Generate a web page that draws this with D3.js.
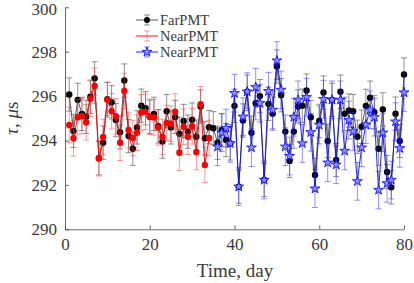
<!DOCTYPE html>
<html>
<head>
<meta charset="utf-8">
<script src="https://cdn.jsdelivr.net/npm/d3@7"></script>
<style>
  body { margin: 0; background: #fff; }
  svg text { font-family: "Liberation Serif", "DejaVu Serif", serif; }
</style>
</head>
<body>
<svg width="414" height="283"></svg>
<script>
// Data
const farDays = d3.range(1, 81);
const farTau = [
  296.07, 294.43, 295.83, 295.2, 295.07, 295.97, 296.8, 293.2, 293.9, 295.86,
  295.72, 294.92, 294.37, 296.7, 294.2, 293.63, 294.59, 295.57, 295.45, 295.07,
  295.2, 294.64, 293.95, 295.32, 294.59, 295.06, 294.3, 294.88, 294.4, 294.94,
  294.17, 295.53, 294.1, 294.6, 294.55, 293.9, 294.47, 294.02, 293.87, 295.56,
  291.92, 294.9, 296.2, 294.35, 295.68, 296.0, 292.22, 295.65, 295.21, 297.33,
  296.04, 294.4, 293.08, 294.4, 295.53, 295.57, 296.25, 295.05, 292.45, 294.88,
  296.16, 293.98, 295.83, 293.12, 296.2, 295.2, 295.35, 295.32, 294.17, 294.62,
  295.56, 295.93, 295.27, 293.63, 295.4, 292.58, 291.89, 295.21, 293.98, 296.97
];
const redDays = d3.range(1, 35);
const redTau = [
  294.7, 294.1, 295.05, 295.1, 294.82, 295.88, 296.46, 293.2, 294.16, 295.84,
  295.32, 295.09, 293.9, 296.23, 294.47, 294.11, 294.35, 295.26, 295.29, 295.07,
  295.04, 294.59, 294.16, 294.79, 294.76, 295.3, 293.45, 294.62, 294.17, 294.64,
  293.48, 295.63, 292.9, 294.11
];
const blueDays = d3.range(36, 81);
const blueTau = [
  293.72, 294.35, 294.56, 293.87, 296.13, 291.92, 295.07, 296.2, 293.68, 296.4,
  295.68, 292.22, 296.22, 295.38, 297.6, 296.28, 293.72, 293.3, 295.05, 295.83,
  293.87, 295.95, 294.37, 291.83, 294.7, 295.86, 293.0, 295.83, 292.91, 295.83,
  293.53, 294.92, 294.41, 292.16, 293.68, 294.71, 295.38, 295.05, 291.77, 294.35,
  292.07, 292.22, 294.85, 293.65, 296.16
];
const farErr = 0.75;
const redErr = 0.8;
const blueErr = 0.85;
const xTicks = [0, 20, 40, 60, 80];
const yTicks = [290, 292, 294, 296, 298, 300];
const legendNames = ["FarPMT", "NearPMT", "NearPMT"];

const svg = d3.select("svg");

const x = d3.scaleLinear().domain([0, 80]).range([65, 404]);
const y = d3.scaleLinear().domain([290, 300]).range([229.3, 7.3]);

// axes
const xAxis = svg.append("g")
  .attr("transform", `translate(0,${y(290)})`)
  .call(d3.axisBottom(x).tickValues(xTicks).tickSizeInner(-4).tickSizeOuter(0).tickPadding(9));
const yAxis = svg.append("g")
  .attr("transform", `translate(${x(0)},0)`)
  .call(d3.axisLeft(y).tickValues(yTicks).tickSizeInner(-4).tickSizeOuter(0).tickPadding(8));
[xAxis, yAxis].forEach(a => {
  a.selectAll("path").attr("stroke", "#444").attr("stroke-width", 0.8);
  a.selectAll("line").attr("stroke", "#444").attr("stroke-width", 0.8);
  a.selectAll("text").style("font-size", "17px").attr("fill", "#3a3a3a");
});
// keep the top label inside the window
yAxis.selectAll(".tick text").filter(d => d === 300).attr("dy", "0.42em");

svg.append("text")
  .attr("x", 235).attr("y", 277)
  .attr("text-anchor", "middle")
  .style("font-size", "19px").attr("fill", "#3a3a3a")
  .text("Time, day");

svg.append("text")
  .attr("transform", `translate(18,${y(295)}) rotate(-90)`)
  .attr("text-anchor", "middle")
  .style("font-size", "19px").attr("fill", "#3a3a3a")
  .html('<tspan font-style="italic">τ</tspan>, <tspan font-style="italic">μ</tspan>s');

const line = d3.line().x(d => x(d[0])).y(d => y(d[1]));

function drawSeries(days, tau, err, opts) {
  const pts = days.map((d, i) => [d, tau[i]]);
  const g = svg.append("g");
  // error bars
  const eb = g.append("g").attr("stroke", opts.errColor).attr("stroke-width", 1);
  pts.forEach(p => {
    eb.append("line").attr("x1", x(p[0])).attr("x2", x(p[0]))
      .attr("y1", y(p[1] - err)).attr("y2", y(p[1] + err));
    eb.append("line").attr("x1", x(p[0]) - 3).attr("x2", x(p[0]) + 3)
      .attr("y1", y(p[1] - err)).attr("y2", y(p[1] - err));
    eb.append("line").attr("x1", x(p[0]) - 3).attr("x2", x(p[0]) + 3)
      .attr("y1", y(p[1] + err)).attr("y2", y(p[1] + err));
  });
  g.append("path").datum(pts).attr("d", line)
    .attr("fill", "none").attr("stroke", opts.lineColor).attr("stroke-width", 0.9);
  if (opts.star) {
    g.selectAll(".m").data(pts).enter().append("path")
      .attr("d", d3.symbol(d3.symbolStar, 30))
      .attr("transform", d => `translate(${x(d[0])},${y(d[1])})`)
      .attr("fill", opts.markFill).attr("stroke", opts.markStroke).attr("stroke-width", 0.8);
  } else {
    g.selectAll(".m").data(pts).enter().append("circle")
      .attr("cx", d => x(d[0])).attr("cy", d => y(d[1])).attr("r", 3.2)
      .attr("fill", opts.markFill);
  }
}

const styles = [
  { lineColor: "#444", errColor: "rgba(60,60,60,0.55)", markFill: "#000" },
  { lineColor: "#e00", errColor: "rgba(255,60,60,0.5)", markFill: "#f00" },
  { lineColor: "#11d", errColor: "rgba(40,40,255,0.5)", markFill: "#8c8cff", markStroke: "#00f", star: true }
];

drawSeries(farDays, farTau, farErr, styles[0]);
drawSeries(redDays, redTau, redErr, styles[1]);
drawSeries(blueDays, blueTau, blueErr, styles[2]);

// legend
const legend = svg.append("g");
legendNames.forEach((name, i) => {
  const ly = 20 + i * 16;
  const s = styles[i];
  const lg = legend.append("g");
  lg.append("line").attr("x1", 136).attr("x2", 158).attr("y1", ly).attr("y2", ly)
    .attr("stroke", s.lineColor).attr("stroke-width", 0.9);
  lg.append("line").attr("x1", 147).attr("x2", 147).attr("y1", ly - 5).attr("y2", ly + 5)
    .attr("stroke", s.errColor);
  lg.append("line").attr("x1", 144).attr("x2", 150).attr("y1", ly - 5).attr("y2", ly - 5)
    .attr("stroke", s.errColor);
  lg.append("line").attr("x1", 144).attr("x2", 150).attr("y1", ly + 5).attr("y2", ly + 5)
    .attr("stroke", s.errColor);
  if (s.star) {
    lg.append("path").attr("d", d3.symbol(d3.symbolStar, 30))
      .attr("transform", `translate(147,${ly})`)
      .attr("fill", s.markFill).attr("stroke", s.markStroke).attr("stroke-width", 0.8);
  } else if (i === 0) {
    lg.append("circle").attr("cx", 147).attr("cy", ly).attr("r", 3).attr("fill", s.markFill);
  }
  lg.append("text").attr("x", 160).attr("y", ly + 5)
    .style("font-size", "14.5px").attr("fill", "#3a3a3a").text(name);
});
</script>
</body>
</html>
